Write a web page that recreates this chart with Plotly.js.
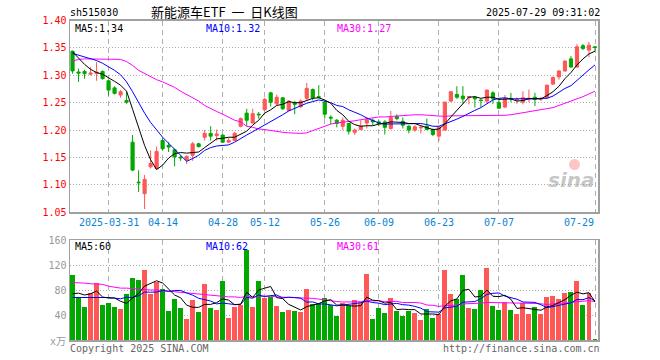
<!DOCTYPE html>
<html>
<head>
<meta charset="utf-8">
<script src="https://cdn.plot.ly/plotly-3.0.1.min.js"></script>
<style>html,body{margin:0;padding:0;background:#fff;}#chart{width:660px;height:360px;}</style>
</head>
<body>
<div id="chart"></div>
<script>
// ---- data ----
var tickIdx = [6, 15, 25, 32, 42, 51, 61, 71, 87];
var tickLabels = ['2025-03-31', '04-14', '04-28', '05-12', '05-26', '06-09', '06-23', '07-07', '07-29'];
var priceTicks = [1.05, 1.10, 1.15, 1.20, 1.25, 1.30, 1.35, 1.40];
var volTicks = [40, 80, 120, 160];

var open = [1.344,1.306,1.307,1.302,1.303,1.307,1.290,1.277,1.264,1.254,
1.178,1.105,1.084,1.133,1.130,1.181,1.172,1.164,1.1505,1.146,
1.154,1.175,1.187,1.194,1.190,1.191,1.178,1.181,1.207,1.231,
1.213,1.229,1.237,1.268,1.248,1.259,1.236,1.250,1.243,1.258,
1.274,1.261,1.251,1.2235,1.218,1.207,1.212,1.196,1.201,1.213,
1.218,1.215,1.215,1.203,1.225,1.216,1.207,1.200,1.204,1.207,
1.201,1.189,1.200,1.253,1.265,1.262,1.2598,1.260,1.2548,1.253,
1.268,1.250,1.242,1.258,1.255,1.251,1.257,1.260,1.2565,1.259,
1.284,1.297,1.308,1.330,1.315,1.354,1.346,1.352];
var high = [1.345,1.312,1.310,1.315,1.324,1.309,1.291,1.280,1.273,1.270,
1.191,1.127,1.118,1.163,1.170,1.186,1.178,1.166,1.154,1.154,
1.178,1.177,1.200,1.207,1.201,1.192,1.186,1.197,1.223,1.239,
1.239,1.233,1.259,1.270,1.265,1.260,1.254,1.253,1.256,1.286,
1.276,1.282,1.253,1.227,1.220,1.223,1.213,1.203,1.218,1.224,
1.221,1.218,1.218,1.235,1.229,1.223,1.209,1.209,1.209,1.221,
1.203,1.207,1.252,1.271,1.280,1.280,1.262,1.262,1.257,1.274,
1.271,1.257,1.264,1.268,1.259,1.271,1.274,1.268,1.260,1.283,
1.298,1.309,1.327,1.335,1.357,1.357,1.361,1.353];
var low = [1.303,1.288,1.294,1.300,1.290,1.292,1.263,1.265,1.259,1.248,
1.125,1.087,1.056,1.130,1.128,1.163,1.160,1.134,1.144,1.138,
1.144,1.168,1.181,1.181,1.181,1.177,1.178,1.181,1.205,1.207,
1.212,1.221,1.236,1.243,1.245,1.237,1.234,1.229,1.240,1.254,
1.254,1.258,1.221,1.211,1.205,1.200,1.192,1.191,1.200,1.203,
1.209,1.207,1.192,1.201,1.218,1.203,1.194,1.197,1.194,1.200,
1.189,1.180,1.199,1.251,1.257,1.248,1.247,1.241,1.242,1.248,
1.248,1.239,1.240,1.251,1.248,1.247,1.251,1.244,1.253,1.258,
1.282,1.292,1.306,1.314,1.314,1.346,1.333,1.344];
var close = [1.308,1.304,1.303,1.304,1.306,1.294,1.273,1.267,1.270,1.251,
1.127,1.104,1.110,1.139,1.161,1.166,1.169,1.151,1.1495,1.152,
1.175,1.170,1.194,1.189,1.193,1.178,1.181,1.194,1.221,1.218,
1.230,1.228,1.256,1.251,1.260,1.239,1.253,1.247,1.253,1.276,
1.259,1.260,1.229,1.222,1.212,1.218,1.198,1.200,1.207,1.219,
1.215,1.212,1.205,1.223,1.221,1.209,1.200,1.206,1.205,1.201,
1.192,1.206,1.251,1.270,1.260,1.257,1.261,1.257,1.254,1.273,
1.257,1.240,1.257,1.257,1.256,1.259,1.258,1.256,1.2575,1.282,
1.296,1.308,1.326,1.315,1.352,1.349,1.355,1.351];

var ma5 = [1.343,1.331,1.320,1.311,1.305,1.302,1.296,1.289,1.282,1.271,
1.238,1.204,1.172,1.146,1.128,1.136,1.149,1.157,1.159,1.158,
1.159,1.160,1.168,1.176,1.184,1.185,1.187,1.187,1.193,1.198,
1.209,1.218,1.231,1.237,1.245,1.247,1.252,1.250,1.250,1.254,
1.258,1.259,1.255,1.249,1.236,1.228,1.216,1.210,1.207,1.208,
1.208,1.211,1.212,1.215,1.215,1.214,1.212,1.212,1.208,1.204,
1.201,1.202,1.211,1.224,1.236,1.249,1.260,1.261,1.258,1.260,
1.260,1.256,1.256,1.257,1.253,1.254,1.257,1.257,1.257,1.263,
1.270,1.280,1.294,1.305,1.319,1.330,1.339,1.344];
var ma10 = [1.340,1.337,1.334,1.331,1.327,1.322,1.316,1.309,1.301,1.288,
1.270,1.250,1.231,1.214,1.200,1.187,1.176,1.165,1.153,1.143,
1.148,1.154,1.163,1.168,1.171,1.172,1.173,1.178,1.185,1.191,
1.197,1.203,1.209,1.215,1.222,1.228,1.235,1.240,1.244,1.249,
1.252,1.255,1.253,1.250,1.245,1.243,1.237,1.233,1.228,1.222,
1.218,1.213,1.211,1.211,1.212,1.211,1.211,1.212,1.212,1.210,
1.207,1.207,1.211,1.216,1.220,1.225,1.231,1.236,1.241,1.248,
1.255,1.258,1.259,1.257,1.257,1.257,1.257,1.257,1.257,1.258,
1.262,1.269,1.276,1.281,1.291,1.300,1.310,1.319];
var ma30 = [1.326,1.329,1.330,1.330,1.330,1.330,1.330,1.329,1.329,1.325,
1.318,1.309,1.303,1.298,1.292,1.288,1.283,1.278,1.271,1.265,
1.259,1.253,1.245,1.239,1.234,1.229,1.223,1.218,1.215,1.207,
1.205,1.202,1.201,1.199,1.197,1.196,1.195,1.194,1.194,1.195,
1.199,1.204,1.208,1.211,1.213,1.214,1.215,1.217,1.219,1.221,
1.222,1.224,1.224,1.225,1.226,1.227,1.228,1.228,1.228,1.227,
1.226,1.225,1.225,1.226,1.226,1.226,1.227,1.227,1.227,1.227,
1.227,1.226,1.227,1.228,1.230,1.231,1.233,1.235,1.237,1.239,
1.241,1.245,1.249,1.252,1.256,1.261,1.266,1.271];

var volume = [104,68,53,76,91,56,60,53,50,74,
99,96,112,74,93,81,46,66,52,34,
64,45,90,52,48,94,35,53,56,144,
53,94,68,69,55,45,48,47,45,82,
57,60,68,56,38,59,54,64,60,106,
34,51,44,67,47,38,47,44,32,49,
36,42,112,74,65,104,51,50,80,115,
54,48,61,48,42,59,42,53,42,69,
70,66,76,77,94,56,76,2];
var vma5 = [74,75,72,74,78.4,68.8,67.2,67.2,62,58.6,
67.2,74.4,86.2,91,94.8,91.2,81.2,72,67.6,55.8,
52.4,52.2,57,57,59.8,65.8,63.8,56.4,57.2,76.4,
68.2,80,83,85.6,67.8,66.2,57,52.8,48,53.4,
55.8,58.2,62.4,64.6,55.8,56.2,55,54.2,55,68.6,
63.6,63,59,60.4,48.6,49.4,48.6,48.6,41.6,42,
41.6,40.6,54.2,62.6,65.8,79.4,81.2,68.8,70,80,
70,69.4,71.6,65.2,50.6,51.6,50.4,48.8,47.6,53,
55.2,60,64.6,71.6,76.6,73.8,75.8,61];
var vma10 = [68,68,68,69,69,69,68,67,66,68.5,
68,70.8,76.7,76.5,76.7,79.2,77.8,79.1,79.3,75.3,
71.8,66.7,64.5,62.3,57.8,59.1,58,56.7,57.1,68.1,
67,71.9,69.7,71.4,72.1,67.2,68.5,67.9,66.8,60.6,
61,57.6,57.6,56.3,54.6,56,56.6,58.3,59.8,62.2,
59.9,59,56.6,57.7,58.6,56.5,55.8,53.8,51,45.3,
45.5,44.6,51.4,52.1,53.9,60.5,60.9,61.5,66.3,72.9,
74.7,75.3,70.2,67.6,65.3,60.8,59.9,60.2,56.4,51.8,
53.4,55.2,56.7,59.6,64.8,64.5,67.9,62.8];
var vma30 = [92,92,91,90,90,89,86,84,83,83,
82,81,80,80,80,79,79,78,77,76,
75,73,72,71,70,70,69,69,68,70.6,
68.9,69.8,70.3,70.1,68.9,68.5,68.1,67.9,67.7,68,
66.6,65.4,63.9,63.3,61.5,60.8,61,61,61.2,63.6,
62.6,62.8,61.3,61.8,61.8,59.9,60.3,60,59.2,56,
55.5,53.7,55.2,55.4,55.7,57.7,57.8,57.9,59,60.1,
60,59.6,59.4,59.1,59.3,59.3,58.9,58.5,57.9,56.7,
57.9,58.4,59.4,59.8,61.3,61.9,62.9,61.5];

var priceMaLabels = ['MA5:1.34', 'MA10:1.32', 'MA30:1.27'];
var volMaLabels = ['MA5:60', 'MA10:62', 'MA30:61'];
var code = 'sh515030';
var titleText = '新能源车ETF\u00a0\u00a0一\u00a0\u00a0日K线图';
var stamp = '2025-07-29 09:31:02';

// ---- build ----
var RED = '#ff5656', GREEN = '#00a800';
var MONO = 'DejaVu Sans Mono, Liberation Mono, monospace';
var idx = close.map(function (_, i) { return i; });
var volColors = close.map(function (c, i) { return c >= open[i] ? RED : GREEN; });

var traces = [
  { type: 'candlestick', x: idx, open: open, high: high, low: low, close: close,
    xaxis: 'x', yaxis: 'y', whiskerwidth: 0, hoverinfo: 'skip',
    increasing: { line: { color: RED, width: 1 }, fillcolor: RED },
    decreasing: { line: { color: GREEN, width: 1 }, fillcolor: GREEN } },
  { type: 'scatter', mode: 'lines', x: idx, y: ma30, xaxis: 'x', yaxis: 'y', line: { color: '#ff00ff', width: 1 } },
  { type: 'scatter', mode: 'lines', x: idx, y: ma10, xaxis: 'x', yaxis: 'y', line: { color: '#0000ff', width: 1 } },
  { type: 'scatter', mode: 'lines', x: idx, y: ma5, xaxis: 'x', yaxis: 'y', line: { color: '#000000', width: 1 } },
  { type: 'bar', x: idx, y: volume, xaxis: 'x2', yaxis: 'y2', width: 0.83,
    marker: { color: volColors, line: { width: 0 } } },
  { type: 'scatter', mode: 'lines', x: idx, y: vma30, xaxis: 'x2', yaxis: 'y2', line: { color: '#ff00ff', width: 1 } },
  { type: 'scatter', mode: 'lines', x: idx, y: vma10, xaxis: 'x2', yaxis: 'y2', line: { color: '#0000ff', width: 1 } },
  { type: 'scatter', mode: 'lines', x: idx, y: vma5, xaxis: 'x2', yaxis: 'y2', line: { color: '#000000', width: 1 } }
];

var W = 660, H = 360;
function px(x) { return x / W; }
function py(y) { return 1 - y / H; }

var xCommon = {
  domain: [px(70), px(598)], range: [-0.42, 87.5],
  tickmode: 'array', tickvals: tickIdx, showticklabels: false, ticks: '',
  showgrid: true, gridcolor: '#b0b0b0', gridwidth: 1, griddash: '5px,4px',
  showline: true, mirror: true, linecolor: '#a0a0a0', linewidth: 1.5, zeroline: false, fixedrange: true
};
var xaxis = Object.assign({}, xCommon, { anchor: 'y', rangeslider: { visible: false } });
var xaxis2 = Object.assign({}, xCommon, { anchor: 'y2' });

var yaxis = {
  domain: [py(212.3), py(20.5)], range: [1.05, 1.40],
  tickmode: 'array', tickvals: priceTicks, ticktext: priceTicks.map(function (v) { return v.toFixed(2); }),
  tickfont: { family: MONO, size: 10, color: '#ff0000' }, ticks: '',
  showgrid: true, gridcolor: '#b0b0b0', griddash: '1px,2px', gridwidth: 1,
  showline: true, mirror: true, linecolor: '#a0a0a0', linewidth: 1.5, zeroline: false, anchor: 'x', fixedrange: true
};
var yaxis2 = {
  domain: [py(340), py(240)], range: [0, 160],
  tickmode: 'array', tickvals: volTicks, ticktext: volTicks.map(String),
  tickfont: { family: MONO, size: 10, color: '#999999' }, ticks: '',
  showgrid: true, gridcolor: '#b0b0b0', griddash: '1px,2px', gridwidth: 1,
  showline: true, mirror: true, linecolor: '#a0a0a0', linewidth: 1.5, zeroline: false, anchor: 'x2', fixedrange: true
};

function txt(text, x, y, xanchor, color, size, family, extra) {
  return Object.assign({ text: text, x: x, y: y, xref: 'paper', yref: 'paper', xanchor: xanchor, yanchor: 'middle',
    showarrow: false, font: { family: family || MONO, size: size || 10, color: color || '#000' }, borderpad: 0 }, extra || {});
}

var ann = [];
ann.push(txt(code, px(69), py(13), 'left', '#000', 10));
ann.push(txt(titleText, px(150), py(12), 'left', '#000', 13, 'Noto Sans CJK SC'));
ann.push(txt(stamp, px(601), py(13), 'right', '#000', 10));
var maColors = ['#000000', '#0000ff', '#ff00ff'];
var maX = [74, 205, 336];
priceMaLabels.forEach(function (t, k) { ann.push(txt(t, px(maX[k]), py(28.5), 'left', maColors[k], 10)); });
volMaLabels.forEach(function (t, k) { ann.push(txt(t, px(maX[k]), py(246.5), 'left', maColors[k], 10)); });
tickIdx.forEach(function (v, k) {
  ann.push({ text: tickLabels[k], x: v, y: py(222), xref: 'x', yref: 'paper',
    xanchor: k === tickIdx.length - 1 ? 'right' : 'center', yanchor: 'middle', showarrow: false, borderpad: 0,
    font: { family: MONO, size: 10, color: '#0a84d6' } });
});
ann.push(txt('x万', px(67), py(341), 'right', '#999999', 10, 'DejaVu Sans Mono, Noto Sans CJK SC'));
ann.push(txt('Copyright 2025 SINA.COM', px(69), py(348), 'left', '#666666', 10));
ann.push(txt('http://finance.sina.com.cn', px(601), py(348), 'right', '#666666', 10));
ann.push(txt('sina', px(596), py(180), 'right', 'rgba(150,150,150,0.55)', 20, 'DejaVu Sans',
  { font: { family: 'DejaVu Sans', size: 20, color: 'rgba(150,150,150,0.55)', style: 'italic', weight: 'bold' } }));

var shapes = [
  { type: 'circle', xref: 'paper', yref: 'paper', x0: px(569), x1: px(580), y0: py(170), y1: py(159),
    fillcolor: 'rgba(255,90,90,0.35)', line: { width: 0 } }
];

var layout = {
  width: W, height: H, margin: { l: 0, r: 0, t: 0, b: 0 },
  paper_bgcolor: '#ffffff', plot_bgcolor: '#ffffff',
  showlegend: false, hovermode: false, boxgap: 0.25, bargap: 0,
  font: { family: MONO, size: 10, color: '#000' },
  xaxis: xaxis, xaxis2: xaxis2, yaxis: yaxis, yaxis2: yaxis2,
  annotations: ann, shapes: shapes
};

Plotly.newPlot('chart', traces, layout, { displayModeBar: false, staticPlot: true });
</script>
</body>
</html>
